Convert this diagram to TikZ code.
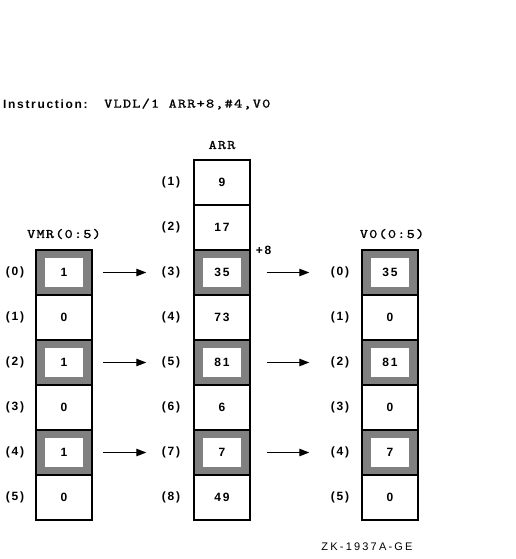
\documentclass[tikz,border=0pt]{standalone}
\usepackage{fontspec}
\setmainfont{Liberation Sans}[LetterSpace=14]
\setmonofont{lmmono10-regular.otf}[LetterSpace=9,FakeStretch=1.2,FakeBold=1.2]
\usetikzlibrary{arrows.meta}

\definecolor{shade}{gray}{0.5}

\tikzset{
  cell/.style={draw, line width=1.5, minimum width=56, minimum height=45,
    inner sep=0},
  sel/.style={cell, fill=shade, path picture={
    \fill[white] ([xshift=-19,yshift=-14.5]path picture bounding box.center)
      rectangle ([xshift=19,yshift=14.5]path picture bounding box.center);}},
  move/.style={line width=1.3, -{Triangle[length=10,width=7.5]}},
  txt/.style={font=\fontsize{12}{14}\selectfont\bfseries},
  code/.style={font=\fontsize{13}{15}\selectfont\ttfamily},
}

\begin{document}
\begin{tikzpicture}[x=1pt,y=-1pt]
\useasboundingbox (0,0) rectangle (515,559);

\node[txt, anchor=west, inner sep=0] (instr) at (3,104) {Instruction:};
\node[code, anchor=west, inner sep=0] (instrcode) at (104,104)
  {VLDL/1 ARR+8,\#4,V0};

% VMR(0:5)
\node[code] (vmrname) at (64,234) {VMR(0:5)};
\foreach \v/\s [count=\i from 0] in {1/sel,0/cell,1/sel,0/cell,1/sel,0/cell}
{
  \node[\s, txt] (vmr\i) at (64,272.5+45*\i) {\v};
  \node[txt] (vmridx\i) at (15,272.5+45*\i) {(\i)};
}

% ARR
\node[code] (arrname) at (222,145) {ARR};
\foreach \v/\s [count=\i] in {9/cell,17/cell,35/sel,73/cell,81/sel,6/cell,7/sel,49/cell}
{
  \node[\s, txt] (arr\i) at (222,137.5+45*\i) {\v};
  \node[txt] (arridx\i) at (171,137.5+45*\i) {(\i)};
}
\node[txt, anchor=west, inner sep=0] (offset) at ([xshift=5,yshift=-1]arr3.north east) {+8};

% V0(0:5)
\node[code] (vzname) at (392,234) {V0(0:5)};
\foreach \v/\s [count=\i from 0] in {35/sel,0/cell,81/sel,0/cell,7/sel,0/cell}
{
  \node[\s, txt] (vz\i) at (390,272.5+45*\i) {\v};
  \node[txt] (vzidx\i) at (340,272.5+45*\i) {(\i)};
}

% moves
\draw[move] ([xshift=10]vmr0.east) -- ([xshift=-47]arr3.west);
\draw[move] ([xshift=10]vmr2.east) -- ([xshift=-47]arr5.west);
\draw[move] ([xshift=10]vmr4.east) -- ([xshift=-47]arr7.west);
\draw[move] ([xshift=16]arr3.east) -- ([xshift=-52]vz0.west);
\draw[move] ([xshift=16]arr5.east) -- ([xshift=-52]vz2.west);
\draw[move] ([xshift=16]arr7.east) -- ([xshift=-52]vz4.west);

\node[font=\fontsize{11}{13}\selectfont\addfontfeatures{LetterSpace=20}] (tag) at (367,547) {ZK-1937A-GE};
\end{tikzpicture}
\end{document}
